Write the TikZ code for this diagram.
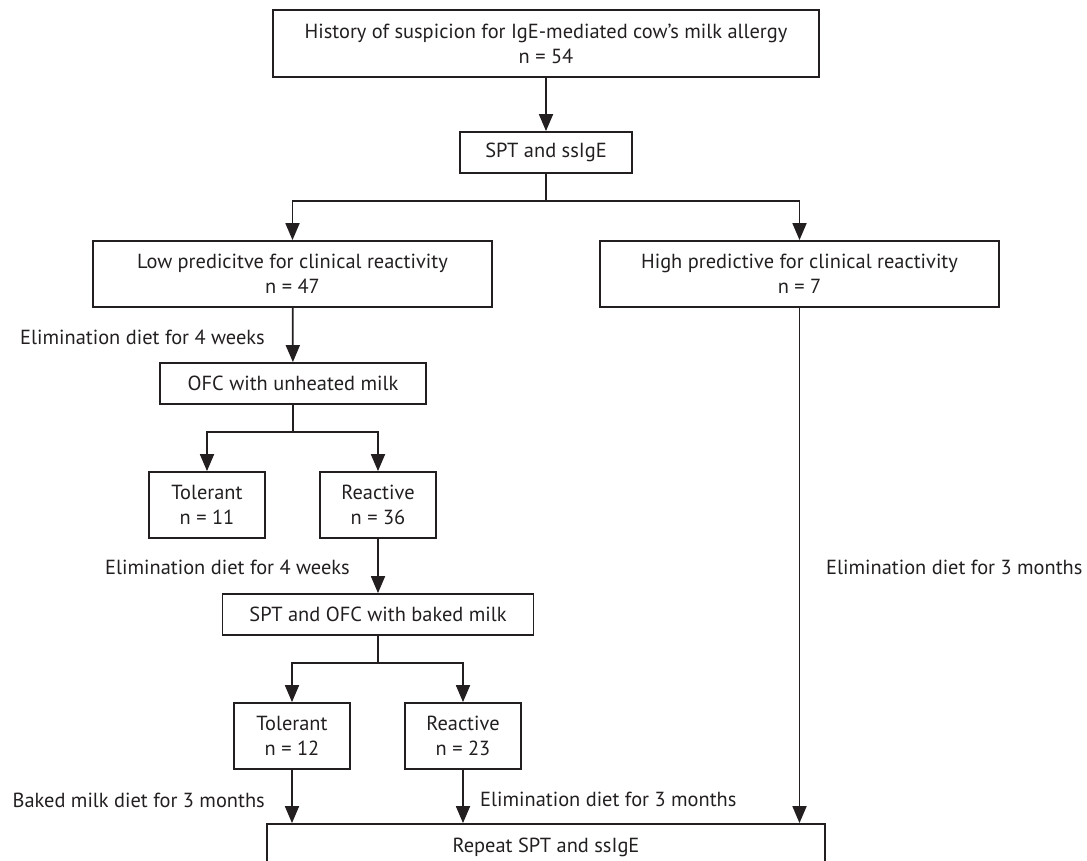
\documentclass[tikz,border=0pt]{standalone}
\usepackage{fontspec}
\setmainfont{PT Sans}
\usetikzlibrary{arrows.meta}
\definecolor{ink}{HTML}{231F20}
\begin{document}
\begin{tikzpicture}[x=1pt,y=-1pt,
  txt/.style={text=ink, font=\fontsize{20.4}{25}\selectfont},
  box/.style={txt, draw=ink, line width=1.8pt, align=center, inner sep=0pt},
  conn/.style={draw=ink, line width=1.8pt},
  arr/.style={conn, -{Triangle[length=17pt,width=14pt]}},
  lbl/.style={txt, inner sep=0pt}]
\useasboundingbox (0,0) rectangle (1087,861);
\clip (0,0) rectangle (1087,861);

% boxes
\node[box, minimum width=546pt, minimum height=67pt] (top) at (546,43.5)
  {History of suspicion for IgE-mediated cow’s milk allergy\\n = 54};
\node[box, minimum width=172pt, minimum height=41pt] (spt) at (546,152.5) {SPT and ssIgE};
\node[box, minimum width=399pt, minimum height=66pt] (low) at (292.5,274)
  {Low predicitve for clinical reactivity\\n = 47};
\node[box, minimum width=399pt, minimum height=66pt] (high) at (799.5,274)
  {High predictive for clinical reactivity\\n = 7};
\node[box, minimum width=266pt, minimum height=41pt] (ofc) at (293,383.5) {OFC with unheated milk};
\node[box, minimum width=116pt, minimum height=66pt] (tolA) at (207,505) {Tolerant\\n = 11};
\node[box, minimum width=116pt, minimum height=66pt] (reaA) at (378,505) {Reactive\\n = 36};
\node[box, minimum width=311pt, minimum height=41pt] (baked) at (378,614.5) {SPT and OFC with baked milk};
\node[box, minimum width=116pt, minimum height=66pt] (tolB) at (292,736) {Tolerant\\n = 12};
\node[box, minimum width=116pt, minimum height=66pt] (reaB) at (463,736) {Reactive\\n = 23};
\node[box, minimum width=558pt, minimum height=46pt] (rep) at (546,847) {Repeat SPT and ssIgE};

% junctions
\coordinate (j1) at (546,201);
\coordinate (j2) at (293,432);
\coordinate (j3) at (378,663);

% connectors
\draw[arr] (top) -- (spt);
\draw[conn] (spt) -- (j1);
\draw[arr] (j1) -| (low);
\draw[arr] (j1) -| (high);
\draw[arr] (low) -- (ofc);
\draw[conn] (ofc) -- (j2);
\draw[arr] (j2) -| (tolA);
\draw[arr] (j2) -| (reaA);
\draw[arr] (reaA) -- (baked);
\draw[conn] (baked) -- (j3);
\draw[arr] (j3) -| (tolB);
\draw[arr] (j3) -| (reaB);
\draw[arr] (tolB.south) -- (tolB.south |- rep.north);
\draw[arr] (reaB.south) -- (reaB.south |- rep.north);
\draw[arr] (high.south) -- (high.south |- rep.north);

% labels
\node[lbl, anchor=east] (l1) at (265,337) {Elimination diet for 4 weeks};
\node[lbl, anchor=east] (l2) at (350,567) {Elimination diet for 4 weeks};
\node[lbl, anchor=east] (l3) at (265,800) {Baked milk diet for 3 months};
\node[lbl, anchor=west] (l4) at (480,799) {Elimination diet for 3 months};
\node[lbl, anchor=west] (l5) at (826,567) {Elimination diet for 3 months};
\end{tikzpicture}
\end{document}
